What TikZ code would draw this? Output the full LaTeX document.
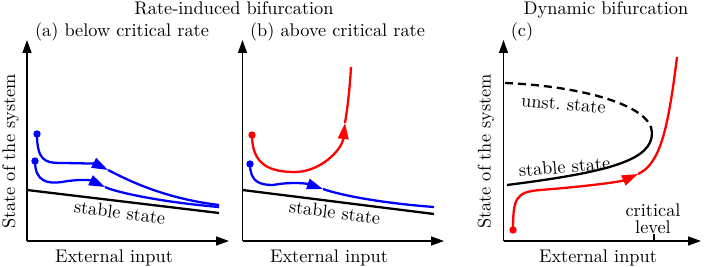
\documentclass[tikz,border=0pt]{standalone}
\usetikzlibrary{arrows.meta}
\begin{document}
\begin{tikzpicture}[x=1pt,y=-1pt,
  lab/.style={font=\fontsize{10}{12}\selectfont, inner sep=0pt, scale=1.83},
  axis/.style={line width=1.3pt, -{Triangle[length=13pt,width=9pt]}},
  curve/.style={line width=2.3pt},
  tipped/.style={-{Triangle[length=16pt,width=10.5pt]}}]
\useasboundingbox (0,0) rectangle (708,267);

% titles
\node[lab, anchor=base] (ttl1) at (234,15) {Rate-induced bifurcation};
\node[lab, anchor=base] (ttl2) at (606,15) {Dynamic bifurcation};
\node[lab, anchor=base] (ta) at (122,37) {(a) below critical rate};
\node[lab, anchor=base] (tb) at (337.5,37) {(b) above critical rate};
\node[lab, anchor=base] (tc) at (522,37) {(c)};

% axes
\coordinate (oa) at (27,241);
\coordinate (ya) at (27,40);
\coordinate (xa) at (229,241);
\coordinate (ob) at (242.5,241);
\coordinate (yb) at (242.5,40);
\coordinate (xb) at (444,241);
\coordinate (oc) at (503.5,241);
\coordinate (yc) at (503.5,40);
\coordinate (xc) at (701,241);
\draw[axis] (oa) -- (ya);
\draw[axis] (oa) -- (xa);
\draw[axis] (ob) -- (yb);
\draw[axis] (ob) -- (xb);
\draw[axis] (oc) -- (yc);
\draw[axis] (oc) -- (xc);

\node[lab, anchor=base] (xla) at (114,262) {External input};
\node[lab, anchor=base] (xlb) at (329,262) {External input};
\node[lab, anchor=base] (xlc) at (598,262) {External input};
\node[lab, anchor=base, rotate=90] (yla) at (15,151.5) {State of the system};
\node[lab, anchor=base, rotate=90] (ylc) at (490.5,151.5) {State of the system};

% ---------- panel (a)
\draw[curve] (27,190) -- (219,213);
\node[lab, anchor=base, rotate=-7] (sa) at (119,218.5) {stable state};
% blue curve 1
\draw[curve, blue] (108,170) .. controls (122,177) and (160,198) .. (219,205);
\draw[curve, blue, tipped] (37,134) .. controls (37,160) and (45,163) .. (60,163)
   .. controls (75,163) and (96,164) .. (108,170);
\fill[blue] (37,134) circle[radius=3.7pt];
% blue curve 2
\draw[curve, blue] (105,187) .. controls (115,192) and (160,202) .. (219,207);
\draw[curve, blue, tipped] (35,161) .. controls (35,182) and (48,184) .. (62,182)
   .. controls (78,179) and (90,180) .. (105,187);
\fill[blue] (35,161) circle[radius=3.7pt];

% ---------- panel (b)
\draw[curve] (242.5,190) -- (434,214);
\node[lab, anchor=base, rotate=-7] (sb) at (334,218.5) {stable state};
% red
\draw[curve, red] (345,123) .. controls (348,105) and (350,85) .. (351,67);
\draw[curve, red, tipped] (252,135) .. controls (252,165) and (270,172) .. (295,172)
   .. controls (320,172) and (342,150) .. (345,123);
\fill[red] (252,135) circle[radius=3.7pt];
% blue
\draw[curve, blue] (323,189) .. controls (340,195) and (380,203) .. (434,207);
\draw[curve, blue, tipped] (250,164) .. controls (250,182) and (260,185) .. (273,185)
   .. controls (288,182) and (305,183) .. (323,189);
\fill[blue] (250,164) circle[radius=3.7pt];

% ---------- panel (c)
\draw[curve, dash pattern=on 8pt off 5pt] (505,83) .. controls (580,86) and (652,105) .. (652,133);
\draw[curve] (652,133) .. controls (652,160) and (610,172) .. (507,185);
\node[lab, anchor=base, rotate=-5] (uc) at (563,110) {unst.\ state};
\node[lab, anchor=base, rotate=5] (sc) at (565,173) {stable state};
% red
\draw[curve, red] (638,174) .. controls (660,164) and (668,130) .. (677,57);
\draw[curve, red, tipped] (513,230) .. controls (513,198) and (516,192) .. (540,190)
   .. controls (580,187) and (620,182) .. (638,174);
\fill[red] (513,230) circle[radius=3.7pt];
% critical level
\coordinate (tk) at (654,241);
\coordinate (tkt) at (654,234);
\draw[line width=1.3pt] (tk) -- (tkt);
\node[lab, anchor=north, align=center] (crit) at (653,203.3) {critical\\[-2.8pt]level};
\end{tikzpicture}
\end{document}
